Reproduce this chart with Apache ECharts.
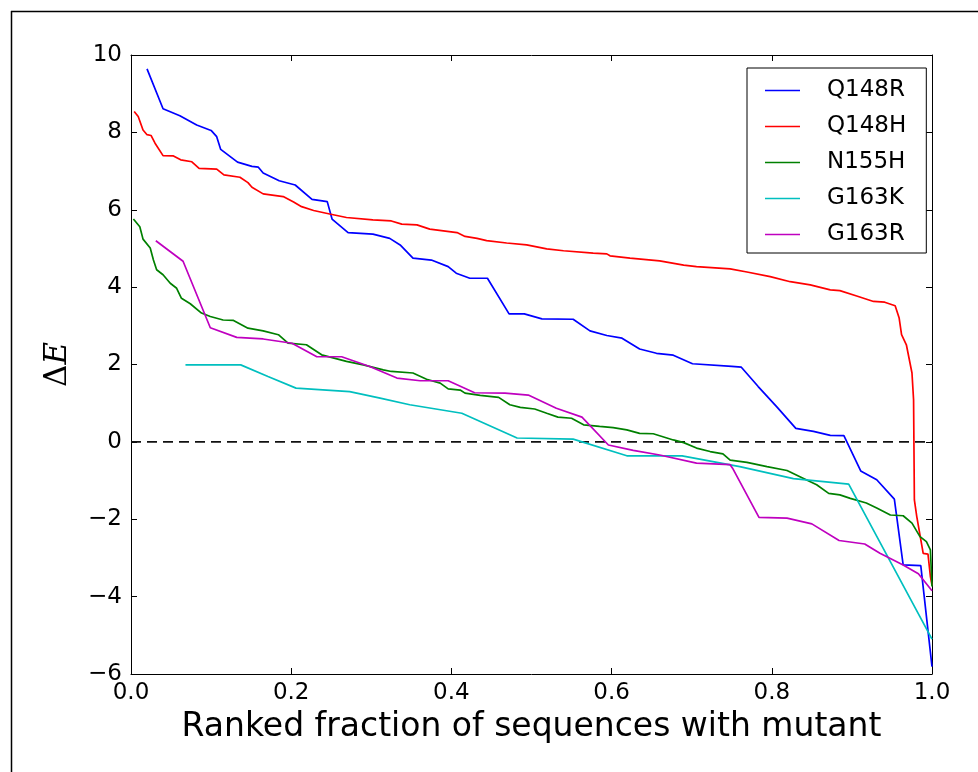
<!DOCTYPE html>
<html>
<head>
<meta charset="utf-8">
<script src="https://cdn.jsdelivr.net/npm/echarts@6/dist/echarts.min.js"></script>
<style>
html,body{margin:0;padding:0;background:#fff;}
#chart{width:978px;height:772px;}
</style>
</head>
<body>
<div id="chart"></div>
<script>
var seriesNames = ['Q148R', 'Q148H', 'N155H', 'G163K', 'G163R'];
var xTickLabels = ['0.0', '0.2', '0.4', '0.6', '0.8', '1.0'];

var q148rX = [0.020,0.040,0.061,0.082,0.100,0.107,0.112,0.133,0.151,0.159,0.165,0.185,0.205,0.226,0.245,0.251,0.271,0.302,0.323,0.336,0.352,0.375,0.396,0.406,0.423,0.445,0.472,0.491,0.513,0.552,0.573,0.594,0.613,0.635,0.656,0.677,0.701,0.750,0.762,0.783,0.806,0.830,0.852,0.873,0.890,0.911,0.931,0.953,0.964,0.986,1.000];
var q148rY = [9.64,8.61,8.43,8.19,8.05,7.89,7.56,7.23,7.12,7.10,6.95,6.75,6.64,6.27,6.21,5.76,5.41,5.37,5.26,5.09,4.75,4.70,4.53,4.36,4.23,4.23,3.31,3.31,3.18,3.17,2.87,2.75,2.68,2.40,2.29,2.24,2.02,1.95,1.93,1.43,0.91,0.35,0.27,0.17,0.16,-0.75,-0.98,-1.48,-3.18,-3.20,-5.81];

var q148hX = [0.004,0.009,0.015,0.020,0.025,0.030,0.040,0.053,0.062,0.076,0.085,0.107,0.116,0.136,0.146,0.151,0.165,0.190,0.203,0.213,0.228,0.248,0.269,0.302,0.325,0.338,0.357,0.373,0.407,0.417,0.432,0.444,0.469,0.494,0.519,0.540,0.577,0.594,0.598,0.623,0.660,0.690,0.706,0.748,0.769,0.798,0.823,0.848,0.873,0.885,0.906,0.927,0.941,0.954,0.959,0.962,0.968,0.975,0.977,0.9775,0.978,0.981,0.989,0.995,0.998,1.000];
var q148hY = [8.54,8.41,8.06,7.94,7.92,7.72,7.40,7.39,7.29,7.24,7.07,7.05,6.90,6.84,6.70,6.58,6.41,6.34,6.20,6.08,5.98,5.89,5.80,5.74,5.71,5.63,5.61,5.50,5.41,5.31,5.26,5.20,5.14,5.09,4.99,4.94,4.88,4.86,4.81,4.75,4.68,4.57,4.53,4.47,4.39,4.27,4.14,4.06,3.93,3.91,3.77,3.63,3.61,3.52,3.20,2.77,2.51,1.78,1.09,-0.20,-1.50,-1.93,-2.88,-2.90,-3.48,-3.70];

var n155hX = [0.003,0.011,0.015,0.024,0.028,0.032,0.040,0.049,0.057,0.063,0.074,0.088,0.099,0.115,0.128,0.146,0.165,0.184,0.196,0.219,0.238,0.269,0.290,0.315,0.325,0.352,0.369,0.386,0.396,0.411,0.417,0.436,0.459,0.473,0.486,0.504,0.519,0.533,0.550,0.565,0.585,0.602,0.619,0.635,0.652,0.677,0.690,0.706,0.723,0.739,0.748,0.769,0.794,0.819,0.839,0.856,0.871,0.885,0.898,0.918,0.931,0.948,0.964,0.975,0.985,0.993,0.998,1.000];
var n155hY = [5.76,5.56,5.24,5.01,4.70,4.45,4.32,4.10,3.97,3.71,3.57,3.33,3.24,3.15,3.14,2.94,2.87,2.77,2.55,2.51,2.25,2.08,1.99,1.86,1.82,1.78,1.62,1.52,1.37,1.34,1.26,1.20,1.15,0.96,0.89,0.85,0.74,0.64,0.61,0.44,0.40,0.37,0.31,0.22,0.21,0.05,-0.02,-0.16,-0.25,-0.31,-0.47,-0.53,-0.64,-0.74,-0.94,-1.11,-1.33,-1.37,-1.46,-1.58,-1.71,-1.89,-1.91,-2.10,-2.45,-2.58,-2.79,-3.74];

var g163kX = [0.068,0.137,0.171,0.206,0.273,0.311,0.348,0.413,0.482,0.552,0.619,0.688,0.760,0.827,0.896,1.000];
var g163kY = [1.99,1.99,1.69,1.39,1.30,1.13,0.96,0.74,0.10,0.07,-0.36,-0.36,-0.64,-0.95,-1.09,-5.10];

var g163rX = [0.031,0.065,0.099,0.132,0.165,0.201,0.232,0.263,0.298,0.332,0.361,0.396,0.429,0.467,0.496,0.531,0.563,0.596,0.627,0.660,0.706,0.748,0.751,0.784,0.819,0.850,0.884,0.916,0.935,0.964,0.983,1.000];
var g163rY = [5.20,4.67,2.95,2.70,2.66,2.55,2.20,2.20,1.95,1.65,1.58,1.58,1.27,1.26,1.21,0.87,0.64,-0.08,-0.22,-0.34,-0.55,-0.59,-0.68,-1.95,-1.97,-2.12,-2.55,-2.64,-2.88,-3.18,-3.41,-3.85];

var zeroLineX = [0, 1];
var zeroLineY = [0, 0];

var colors = ['#0000ff', '#ff0000', '#008000', '#00bfbf', '#bf00bf'];
var allX = [q148rX, q148hX, n155hX, g163kX, g163rX];
var allY = [q148rY, q148hY, n155hY, g163kY, g163rY];

function pairs(xs, ys) { return xs.map(function (x, i) { return [x, ys[i]]; }); }

var FONT = 'DejaVu Sans';
var series = [{
  name: 'zero',
  type: 'line',
  data: pairs(zeroLineX, zeroLineY),
  symbol: 'none',
  silent: true,
  lineStyle: { color: '#111', width: 1.6, type: [10, 6] },
  z: 1
}];
seriesNames.forEach(function (n, i) {
  series.push({
    name: n,
    type: 'line',
    data: pairs(allX[i], allY[i]),
    symbol: 'none',
    showSymbol: false,
    color: colors[i],
    lineStyle: { color: colors[i], width: 1.7 },
    z: 2 + i
  });
});

var axisLineStyle = { show: true, onZero: false, lineStyle: { color: '#000', width: 1 } };
var tickStyle = { show: true, inside: true, length: 6, lineStyle: { color: '#000', width: 1 } };

var chart = echarts.init(document.getElementById('chart'), null, { renderer: 'canvas' });
chart.setOption({
  animation: false,
  backgroundColor: '#fff',
  textStyle: { fontFamily: FONT },
  grid: { left: 131, right: 46, top: 55, bottom: 98, containLabel: false },
  legend: {
    data: seriesNames,
    orient: 'vertical',
    left: 747,
    top: 68,
    width: 174,
    borderColor: '#000',
    borderWidth: 1,
    borderRadius: 0,
    backgroundColor: '#fff',
    padding: [11, 20, 7, 18],
    itemWidth: 35,
    itemHeight: 14,
    itemGap: 13,
    icon: 'path://M0,0 L35,0 L35,1.6 L0,1.6 Z',
    textStyle: { fontFamily: FONT, fontSize: 23, color: '#000', lineHeight: 23, padding: [0, 0, 0, 22] }
  },
  xAxis: [{
    type: 'value', min: 0, max: 1, interval: 0.2, position: 'bottom',
    axisLine: axisLineStyle, axisTick: tickStyle, splitLine: { show: false },
    axisLabel: { fontFamily: FONT, fontSize: 23, color: '#000', margin: 8,
      formatter: function (v) { return xTickLabels[Math.round(v / 0.2)]; } },
    name: 'Ranked fraction of sequences with mutant',
    nameLocation: 'middle', nameGap: 37,
    nameTextStyle: { fontFamily: FONT, fontSize: 33, color: '#000' }
  }, {
    type: 'value', min: 0, max: 1, interval: 0.2, position: 'top',
    axisLine: axisLineStyle, axisTick: tickStyle, splitLine: { show: false },
    axisLabel: { show: false }
  }],
  yAxis: [{
    type: 'value', min: -6, max: 10, interval: 2, position: 'left',
    axisLine: axisLineStyle, axisTick: tickStyle, splitLine: { show: false },
    axisLabel: { fontFamily: FONT, fontSize: 23, color: '#000', margin: 9,
      formatter: function (v) { return v < 0 ? '\u2212' + Math.abs(v) : String(v); } },
    name: '{d|\u0394}{e|E}',
    nameLocation: 'middle', nameGap: 58, nameRotate: 90,
    nameTextStyle: { rich: {
      d: { fontFamily: 'DejaVu Serif', fontSize: 31, color: '#000' },
      e: { fontFamily: 'DejaVu Serif', fontStyle: 'italic', fontSize: 31, color: '#000' }
    } }
  }, {
    type: 'value', min: -6, max: 10, interval: 2, position: 'right',
    axisLine: axisLineStyle, axisTick: tickStyle, splitLine: { show: false },
    axisLabel: { show: false }
  }],
  graphic: [
    { type: 'line', shape: { x1: 11, y1: 11.5, x2: 978, y2: 11.5 }, style: { stroke: '#000', lineWidth: 1.5 } },
    { type: 'line', shape: { x1: 11.5, y1: 11, x2: 11.5, y2: 772 }, style: { stroke: '#000', lineWidth: 1.5 } }
  ],
  series: series
});
</script>
</body>
</html>
